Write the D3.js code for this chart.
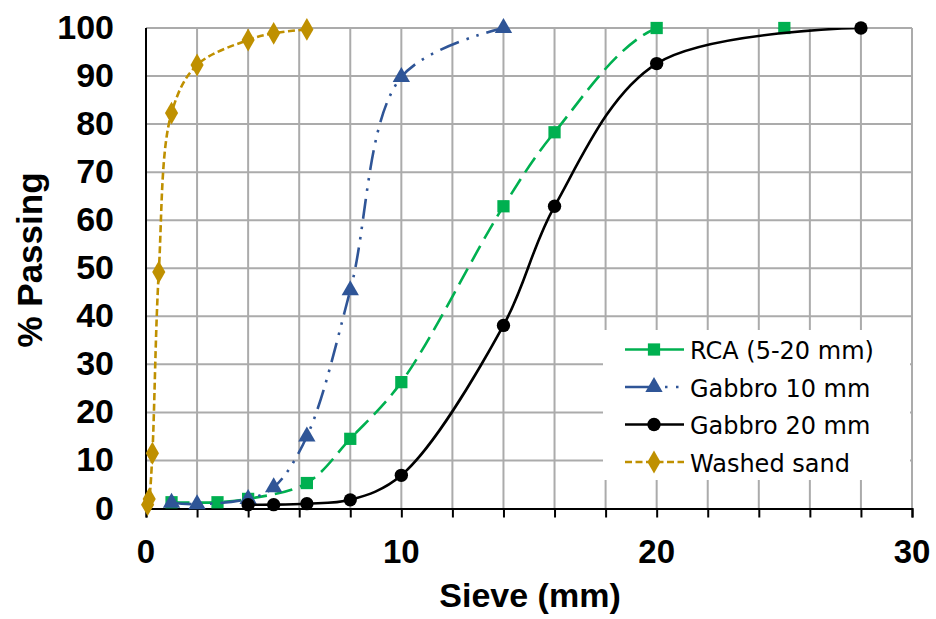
<!DOCTYPE html>
<html>
<head>
<meta charset="utf-8">
<script src="https://cdn.jsdelivr.net/npm/d3@7"></script>
<style>
  body { margin: 0; background: #fff; }
  svg { display: block; }
</style>
</head>
<body>
<script>
// sieve sizes (mm) and % passing
const rcaSieve = [1, 2.8, 4, 6.3, 8, 10, 14, 16, 20, 25];
const rcaPass = [1.3, 1.3, 2, 5.3, 14.5, 26.3, 62.9, 78.3, 100, 100];

const gab10Sieve = [1, 2, 4, 5, 6.3, 8, 10, 14];
const gab10Pass = [1.2, 0.9, 2, 4.4, 15, 45.4, 89.8, 100];

const gab20Sieve = [4, 5, 6.3, 8, 10, 14, 16, 20, 28];
const gab20Pass = [0.8, 0.8, 1, 1.8, 6.9, 38.1, 62.9, 92.6, 100];

const sandSieve = [0.063, 0.125, 0.25, 0.5, 1, 2, 4, 5, 6.3];
const sandPass = [0.8, 2, 11.5, 49.2, 82.3, 92.3, 97.5, 98.9, 99.7];

const xTicks = [0, 10, 20, 30];
const yTicks = [0, 10, 20, 30, 40, 50, 60, 70, 80, 90, 100];

const w = 936, h = 619;
const padL = 146, padR = 912, padT = 28, padB = 508.5;
const boldFont = "Liberation Sans, Arial, sans-serif";

const svg = d3.select("body").append("svg")
  .attr("width", w)
  .attr("height", h);

const x = d3.scaleLinear().domain([0, 30]).range([padL, padR]);
const y = d3.scaleLinear().domain([0, 100]).range([padB, padT]);

svg.append("clipPath").attr("id", "plotclip")
  .append("rect")
  .attr("x", padL).attr("y", padT)
  .attr("width", padR - padL).attr("height", padB - padT);

// grid
const grid = svg.append("g").attr("stroke", "#ababab").attr("stroke-width", 2);
grid.selectAll("line.gx")
  .data(d3.range(2, 31, 2))
  .enter().append("line")
  .attr("x1", d => x(d)).attr("x2", d => x(d))
  .attr("y1", padT).attr("y2", padB);
grid.selectAll("line.gy")
  .data(yTicks.slice(1))
  .enter().append("line")
  .attr("x1", padL).attr("x2", padR)
  .attr("y1", d => y(d)).attr("y2", d => y(d));

// axes
const xAxis = d3.axisBottom(x).tickValues(d3.range(0, 31, 2)).tickSize(9).tickFormat("");
const gx = svg.append("g")
  .attr("transform", "translate(0," + padB + ")")
  .call(xAxis);
gx.select(".domain").attr("stroke", "#000").attr("stroke-width", 2);
gx.selectAll(".tick line").attr("stroke", "#000").attr("stroke-width", 2);

svg.append("line")
  .attr("x1", padL).attr("x2", padL)
  .attr("y1", padT).attr("y2", padB)
  .attr("stroke", "#000").attr("stroke-width", 2);

svg.selectAll("text.xt")
  .data(xTicks)
  .enter().append("text")
  .attr("x", d => x(d))
  .attr("y", 563)
  .attr("text-anchor", "middle")
  .attr("font-family", boldFont)
  .attr("font-weight", "bold")
  .attr("font-size", 33)
  .text(d => d);

svg.selectAll("text.yt")
  .data(yTicks)
  .enter().append("text")
  .attr("x", 114)
  .attr("y", d => y(d) + 11)
  .attr("text-anchor", "end")
  .attr("font-family", boldFont)
  .attr("font-weight", "bold")
  .attr("font-size", 34)
  .text(d => d);

svg.append("text")
  .attr("x", 530)
  .attr("y", 607)
  .attr("text-anchor", "middle")
  .attr("font-family", boldFont)
  .attr("font-weight", "bold")
  .attr("font-size", 34)
  .text("Sieve (mm)");

svg.append("text")
  .attr("transform", "translate(42,260) rotate(-90)")
  .attr("text-anchor", "middle")
  .attr("font-family", boldFont)
  .attr("font-weight", "bold")
  .attr("font-size", 35)
  .text("% Passing");

// series
const series = [
  { name: "RCA (5-20 mm)", xs: rcaSieve, ys: rcaPass, color: "#00b050", dash: "18 8", legDash: null, marker: "square" },
  { name: "Gabbro 10 mm", xs: gab10Sieve, ys: gab10Pass, color: "#2f5597", dash: "20 8 2.5 8 2.5 8", legDash: "30 10 2.5 8.5 2.5 30", marker: "triangle" },
  { name: "Gabbro 20 mm", xs: gab20Sieve, ys: gab20Pass, color: "#000000", dash: null, legDash: null, marker: "circle" },
  { name: "Washed sand", xs: sandSieve, ys: sandPass, color: "#bf9000", dash: "7 3.5", legDash: "7 3.5", marker: "diamond" }
];

const symbols = {
  square: d3.symbol().type(d3.symbolSquare).size(150),
  triangle: d3.symbol().type(d3.symbolTriangle).size(130),
  circle: d3.symbol().type(d3.symbolCircle).size(140),
  diamond: d3.symbol().type(d3.symbolDiamond).size(150)
};

const line = d3.line()
  .x(d => x(d[0]))
  .y(d => y(d[1]))
  .curve(d3.curveCatmullRom);

series.forEach(s => {
  const pts = s.xs.map((v, i) => [v, s.ys[i]]);
  const g = svg.append("g");
  g.append("path")
    .datum(pts)
    .attr("d", line)
    .attr("clip-path", "url(#plotclip)")
    .attr("fill", "none")
    .attr("stroke", s.color)
    .attr("stroke-width", 2.6)
    .attr("stroke-dasharray", s.dash);
  g.selectAll("path.m")
    .data(pts)
    .enter().append("path")
    .attr("transform", d => "translate(" + x(d[0]) + "," + y(d[1]) + ")")
    .attr("d", symbols[s.marker])
    .attr("fill", s.color);
});

// legend
const lg = svg.append("g");
lg.append("rect")
  .attr("x", 603).attr("y", 330)
  .attr("width", 307).attr("height", 150)
  .attr("fill", "#fff");
series.forEach((s, i) => {
  const ly = 349.5 + i * 37.5;
  lg.append("line")
    .attr("x1", 625).attr("x2", 684)
    .attr("y1", ly).attr("y2", ly)
    .attr("stroke", s.color)
    .attr("stroke-width", 2.6)
    .attr("stroke-dasharray", s.legDash);
  lg.append("path")
    .attr("transform", "translate(654," + ly + ")")
    .attr("d", symbols[s.marker])
    .attr("fill", s.color);
  lg.append("text")
    .attr("x", 690)
    .attr("y", ly + 9.5)
    .attr("font-family", "DejaVu Sans, sans-serif")
    .attr("font-size", 24)
    .attr("fill", "#000")
    .text(s.name);
});
</script>
</body>
</html>
